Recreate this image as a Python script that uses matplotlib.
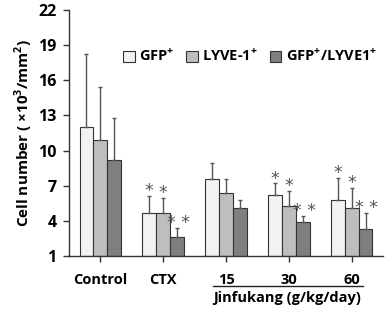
import matplotlib
matplotlib.use("Agg")
import matplotlib.pyplot as plt
import numpy as np

groups = ["Control", "CTX", "15", "30", "60"]
series = ["GFP$^{\\mathbf{+}}$", "LYVE-1$^{\\mathbf{+}}$", "GFP$^{\\mathbf{+}}$/LYVE1$^{\\mathbf{+}}$"]
gfp = [12.0, 4.7, 7.6, 6.2, 5.8]
lyve = [10.9, 4.7, 6.4, 5.3, 5.1]
both = [9.2, 2.6, 5.1, 3.9, 3.3]
gfp_err = [6.2, 1.4, 1.3, 1.0, 1.9]
lyve_err = [4.5, 1.25, 1.2, 1.25, 1.7]
both_err = [3.6, 0.8, 0.7, 0.5, 1.4]
gfp_sig = ["", "*", "", "*", "*"]
lyve_sig = ["", "*", "", "*", "*"]
both_sig = ["", "* *", "", "* *", "* *"]
yticks = [1, 4, 7, 10, 13, 16, 19, 22]
colors = ["#f2f2f2", "#bebebe", "#7f7f7f"]

plt.rcParams['font.family'] = ['Open Sans', 'DejaVu Sans']
plt.rcParams['mathtext.fontset'] = 'custom'
plt.rcParams['mathtext.bf'] = 'Open Sans:bold'
plt.rcParams['mathtext.rm'] = 'Open Sans:bold'

fig = plt.figure(figsize=(3.87, 3.10), dpi=100)
ax = fig.add_axes([0.178, 0.174, 0.812, 0.794])

x = np.arange(len(groups))
w = 0.22
data = [(gfp, gfp_err, gfp_sig), (lyve, lyve_err, lyve_sig), (both, both_err, both_sig)]
for i, (vals, errs, sigs) in enumerate(data):
    pos = x + (i - 1) * w
    ax.bar(pos, np.array(vals) - 1, w, bottom=1, color=colors[i], edgecolor="#333333",
           linewidth=0.8, label=series[i], zorder=2)
    ax.errorbar(pos, vals, yerr=[np.zeros(len(errs)), errs], fmt="none",
                ecolor="#555555", elinewidth=1.0, capsize=1.5, capthick=1.0, zorder=3)
    for p, v, e, s in zip(pos, vals, errs, sigs):
        if s:
            ax.annotate(s, (p, v + e), xytext=(1 if i == 2 else 0, -3), textcoords="offset points",
                        ha="center", va="bottom", fontsize=12.5, color="#555555",
                        family="DejaVu Sans")

ax.set_xlim(-0.5, 4.5)
ax.set_ylim(1, 22)
ax.set_yticks(yticks)
ax.set_yticklabels([str(t) for t in yticks], fontsize=11.5, fontweight="bold")
ax.set_xticks(x)
ax.set_xticklabels(groups, fontsize=10.5, fontweight="bold")
ax.tick_params(axis="both", direction="out", length=4, width=1, color="#333333", pad=8)
ax.tick_params(axis="y", pad=5)
for s in ["top", "right"]:
    ax.spines[s].set_visible(False)
for s in ["left", "bottom"]:
    ax.spines[s].set_color("#333333")
    ax.spines[s].set_linewidth(1)

ax.set_ylabel("Cell number ( \u00d710$^{3}$/mm$^{2}$)", fontsize=11, fontweight="bold", labelpad=2)

# Jinfukang bracket
ax.plot([1.79, 4.18], [-0.122, -0.122], transform=ax.get_xaxis_transform(), color="#222222",
        lw=1.0, clip_on=False)
ax.text(2.97, -0.14, "Jinfukang (g/kg/day)", transform=ax.get_xaxis_transform(),
        ha="center", va="top", fontsize=10.5, fontweight="bold")

leg = ax.legend(loc="upper left", bbox_to_anchor=(0.13, 0.9), ncol=3, frameon=False,
                prop={"weight": "bold", "size": 10.5}, handlelength=0.8,
                handleheight=0.8, handletextpad=0.3, columnspacing=0.8)

fig.savefig("out.png", dpi=100)
